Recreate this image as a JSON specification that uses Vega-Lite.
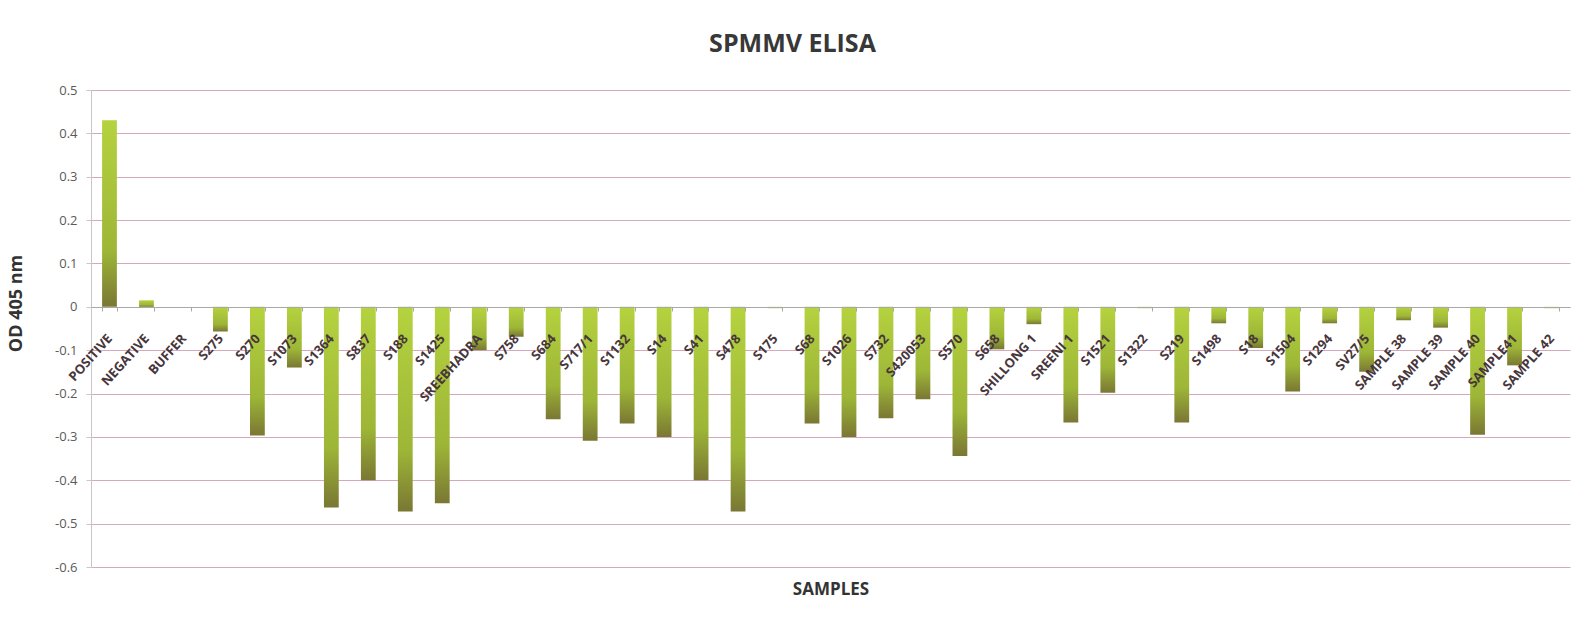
{
  "$schema": "https://vega.github.io/schema/vega-lite/v6.json",
  "width": 1479,
  "height": 477,
  "autosize": {"type": "none"},
  "padding": {"left": 91, "top": 90, "right": 7, "bottom": 61},
  "background": "white",
  "title": {
    "text": "SPMMV ELISA",
    "anchor": "middle",
    "dx": -38,
    "offset": 27,
    "fontSize": 25,
    "font": "Open Sans",
    "fontWeight": "bold",
    "color": "#383838"
  },
  "data": {
    "values": [
      {"sample": "POSITIVE", "od": 0.43},
      {"sample": "NEGATIVE", "od": 0.015},
      {"sample": "BUFFER", "od": 0.0},
      {"sample": "S275", "od": -0.057},
      {"sample": "S270", "od": -0.297},
      {"sample": "S1073", "od": -0.14},
      {"sample": "S1364", "od": -0.463},
      {"sample": "S837", "od": -0.4},
      {"sample": "S188", "od": -0.472},
      {"sample": "S1425", "od": -0.453},
      {"sample": "SREEBHADRA", "od": -0.1},
      {"sample": "S758", "od": -0.069},
      {"sample": "S684", "od": -0.259},
      {"sample": "S717/1", "od": -0.309},
      {"sample": "S1132", "od": -0.269},
      {"sample": "S14", "od": -0.3},
      {"sample": "S41", "od": -0.4},
      {"sample": "S478", "od": -0.472},
      {"sample": "S175", "od": -0.003},
      {"sample": "S68", "od": -0.269},
      {"sample": "S1026", "od": -0.3},
      {"sample": "S732", "od": -0.257},
      {"sample": "S420053", "od": -0.213},
      {"sample": "S570", "od": -0.344},
      {"sample": "S658", "od": -0.098},
      {"sample": "SHILLONG 1", "od": -0.04},
      {"sample": "SREENI 1", "od": -0.267},
      {"sample": "S1521", "od": -0.198},
      {"sample": "S1322", "od": -0.003},
      {"sample": "S219", "od": -0.267},
      {"sample": "S1498", "od": -0.038},
      {"sample": "S18", "od": -0.095},
      {"sample": "S1504", "od": -0.195},
      {"sample": "S1294", "od": -0.038},
      {"sample": "SV27/5", "od": -0.15},
      {"sample": "SAMPLE 38", "od": -0.031},
      {"sample": "SAMPLE 39", "od": -0.048},
      {"sample": "SAMPLE 40", "od": -0.295},
      {"sample": "SAMPLE41", "od": -0.135},
      {"sample": "SAMPLE 42", "od": -0.003}
    ]
  },
  "mark": {
    "type": "bar",
    "color": {
      "gradient": "linear",
      "x1": 0, "y1": 0, "x2": 0, "y2": 1,
      "stops": [
        {"offset": 0, "color": "#b5d23f"},
        {"offset": 0.7, "color": "#9db637"},
        {"offset": 1, "color": "#7a7733"}
      ]
    }
  },
  "encoding": {
    "x": {
      "field": "sample",
      "type": "nominal",
      "sort": null,
      "scale": {"paddingInner": 0.6, "paddingOuter": 0.3},
      "axis": {
        "orient": "bottom",
        "offset": -260,
        "zindex": 1,
        "labelAngle": -48,
        "labelAlign": "right",
        "labelBaseline": "middle",
        "labelFont": "Open Sans",
        "labelFontWeight": "bold",
        "labelFontSize": 13,
        "labelColor": "#47363c",
        "labelPadding": 25,
        "labelOverlap": false,
        "labelBound": false,
        "labelLimit": 300,
        "tickBand": "extent",
        "tickSize": 4,
        "tickColor": "#a8a8a8",
        "domainColor": "#a8a8a8",
        "grid": false,
        "title": "SAMPLES",
        "titleFont": "Open Sans",
        "titleFontWeight": "bold",
        "titleFontSize": 17,
        "titleColor": "#333333",
        "titleY": 274,
        "titleBaseline": "top"
      }
    },
    "y": {
      "field": "od",
      "type": "quantitative",
      "scale": {"domain": [-0.6, 0.5], "nice": false, "zero": false},
      "axis": {
        "values": [-0.6, -0.5, -0.4, -0.3, -0.2, -0.1, 0, 0.1, 0.2, 0.3, 0.4, 0.5],
        "labelExpr": "replace(format(datum.value, '.1~f'), '−', '-')",
        "grid": true,
        "gridColor": "#d4a9bd",
        "gridWidth": 1,
        "domainColor": "#c8c8c8",
        "tickColor": "#c8c8c8",
        "tickSize": 5,
        "labelFont": "Open Sans",
        "labelFontSize": 13,
        "labelColor": "#5a5a5a",
        "labelPadding": 9,
        "title": "OD 405 nm",
        "titleFont": "Open Sans",
        "titleFontWeight": "bold",
        "titleFontSize": 18,
        "titleColor": "#333333",
        "titleX": -75,
        "titleY": 213,
        "titleAngle": 270,
        "titleAlign": "center",
        "titleBaseline": "middle"
      }
    }
  },
  "config": {
    "view": {"stroke": null}
  }
}
